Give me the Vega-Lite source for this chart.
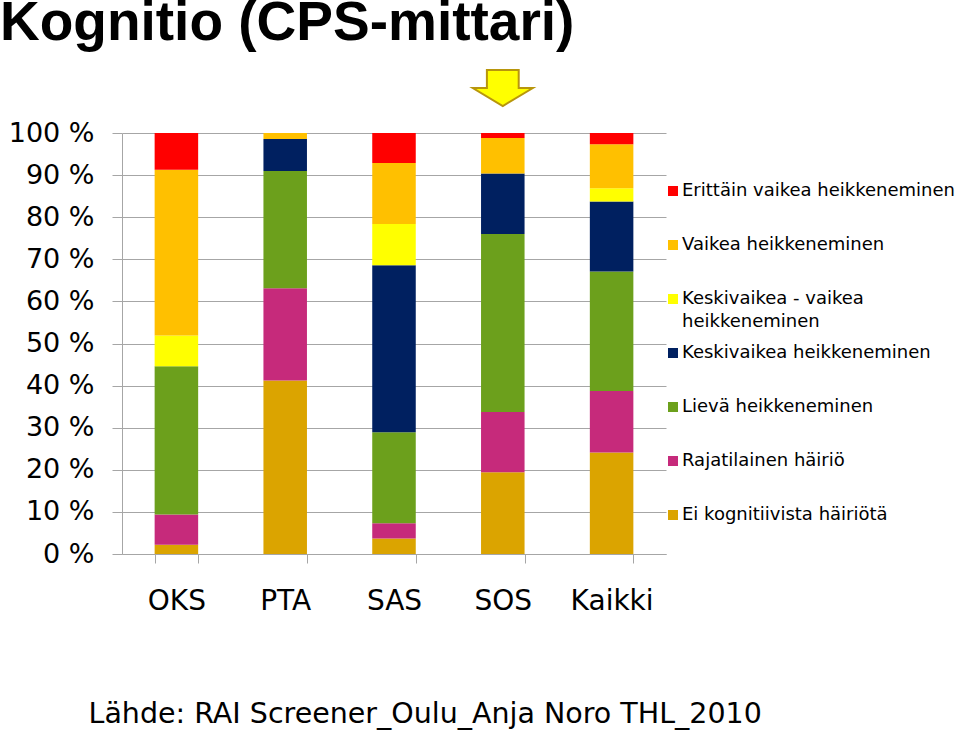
{
  "$schema": "https://vega.github.io/schema/vega-lite/v6.json",
  "width": 544,
  "height": 421,
  "autosize": {"type": "none"},
  "padding": {"left": 122, "top": 133, "right": 294, "bottom": 176},
  "background": "white",
  "title": {
    "text": "Kognitio (CPS-mittari)",
    "anchor": "start",
    "frame": "group",
    "font": "Liberation Sans",
    "fontSize": 55,
    "fontWeight": "bold",
    "color": "black",
    "baseline": "alphabetic",
    "offset": 0,
    "dx": -122,
    "dy": 29
  },
  "config": {
    "view": {"stroke": null},
    "style": {"guide-label": {"lineHeight": 23}}
  },
  "layer": [
    {
      "data": {
        "values": [
          {"group": "OKS", "cps": 0, "level": "Ei kognitiivista häiriötä", "pct": 2.2},
          {"group": "OKS", "cps": 1, "level": "Rajatilainen häiriö", "pct": 7.2},
          {"group": "OKS", "cps": 2, "level": "Lievä heikkeneminen", "pct": 35.2},
          {"group": "OKS", "cps": 3, "level": "Keskivaikea heikkeneminen", "pct": 0},
          {"group": "OKS", "cps": 4, "level": "Keskivaikea - vaikea heikkeneminen", "pct": 7.3},
          {"group": "OKS", "cps": 5, "level": "Vaikea heikkeneminen", "pct": 39.4},
          {"group": "OKS", "cps": 6, "level": "Erittäin vaikea heikkeneminen", "pct": 8.7},
          {"group": "PTA", "cps": 0, "level": "Ei kognitiivista häiriötä", "pct": 41.2},
          {"group": "PTA", "cps": 1, "level": "Rajatilainen häiriö", "pct": 21.9},
          {"group": "PTA", "cps": 2, "level": "Lievä heikkeneminen", "pct": 27.9},
          {"group": "PTA", "cps": 3, "level": "Keskivaikea heikkeneminen", "pct": 7.6},
          {"group": "PTA", "cps": 4, "level": "Keskivaikea - vaikea heikkeneminen", "pct": 0},
          {"group": "PTA", "cps": 5, "level": "Vaikea heikkeneminen", "pct": 1.4},
          {"group": "PTA", "cps": 6, "level": "Erittäin vaikea heikkeneminen", "pct": 0},
          {"group": "SAS", "cps": 0, "level": "Ei kognitiivista häiriötä", "pct": 3.7},
          {"group": "SAS", "cps": 1, "level": "Rajatilainen häiriö", "pct": 3.6},
          {"group": "SAS", "cps": 2, "level": "Lievä heikkeneminen", "pct": 21.6},
          {"group": "SAS", "cps": 3, "level": "Keskivaikea heikkeneminen", "pct": 39.7},
          {"group": "SAS", "cps": 4, "level": "Keskivaikea - vaikea heikkeneminen", "pct": 9.8},
          {"group": "SAS", "cps": 5, "level": "Vaikea heikkeneminen", "pct": 14.5},
          {"group": "SAS", "cps": 6, "level": "Erittäin vaikea heikkeneminen", "pct": 7.1},
          {"group": "SOS", "cps": 0, "level": "Ei kognitiivista häiriötä", "pct": 19.4},
          {"group": "SOS", "cps": 1, "level": "Rajatilainen häiriö", "pct": 14.3},
          {"group": "SOS", "cps": 2, "level": "Lievä heikkeneminen", "pct": 42.3},
          {"group": "SOS", "cps": 3, "level": "Keskivaikea heikkeneminen", "pct": 14.4},
          {"group": "SOS", "cps": 4, "level": "Keskivaikea - vaikea heikkeneminen", "pct": 0},
          {"group": "SOS", "cps": 5, "level": "Vaikea heikkeneminen", "pct": 8.4},
          {"group": "SOS", "cps": 6, "level": "Erittäin vaikea heikkeneminen", "pct": 1.2},
          {"group": "Kaikki", "cps": 0, "level": "Ei kognitiivista häiriötä", "pct": 24.1},
          {"group": "Kaikki", "cps": 1, "level": "Rajatilainen häiriö", "pct": 14.6},
          {"group": "Kaikki", "cps": 2, "level": "Lievä heikkeneminen", "pct": 28.4},
          {"group": "Kaikki", "cps": 3, "level": "Keskivaikea heikkeneminen", "pct": 16.6},
          {"group": "Kaikki", "cps": 4, "level": "Keskivaikea - vaikea heikkeneminen", "pct": 3.2},
          {"group": "Kaikki", "cps": 5, "level": "Vaikea heikkeneminen", "pct": 10.4},
          {"group": "Kaikki", "cps": 6, "level": "Erittäin vaikea heikkeneminen", "pct": 2.7}
        ]
      },
      "mark": {"type": "bar"},
      "encoding": {
        "x": {
          "field": "group",
          "type": "nominal",
          "sort": ["OKS", "PTA", "SAS", "SOS", "Kaikki"],
          "scale": {"paddingInner": 0.6, "paddingOuter": 0.3},
          "axis": {
            "title": "Lähde: RAI Screener_Oulu_Anja Noro THL_2010",
            "titleFont": "DejaVu Sans",
            "titleFontSize": 28.5,
            "titleFontWeight": "normal",
            "titleColor": "black",
            "titleAnchor": "start",
            "titleAlign": "left",
            "titleBaseline": "alphabetic",
            "titleX": -34,
            "titleY": 168,
            "labelAngle": 0,
            "labelFont": "DejaVu Sans",
            "labelFontSize": 28,
            "labelColor": "black",
            "labelPadding": 24,
            "tickBand": "extent",
            "tickSize": 9,
            "tickColor": "#A6A6A6",
            "domainColor": "#A6A6A6",
            "grid": false
          }
        },
        "y": {
          "field": "pct",
          "type": "quantitative",
          "stack": "normalize",
          "scale": {"domain": [0, 1]},
          "axis": {
            "title": null,
            "values": [0, 0.1, 0.2, 0.3, 0.4, 0.5, 0.6, 0.7, 0.8, 0.9, 1],
            "labelExpr": "round(datum.value * 100) + ' %'",
            "labelFont": "DejaVu Sans",
            "labelFontSize": 27,
            "labelColor": "black",
            "labelPadding": 18,
            "tickSize": 10,
            "tickColor": "#A6A6A6",
            "domainColor": "#A6A6A6",
            "grid": true,
            "gridColor": "#A6A6A6"
          }
        },
        "color": {
          "field": "level",
          "type": "nominal",
          "scale": {
            "domain": [
              "Erittäin vaikea heikkeneminen",
              "Vaikea heikkeneminen",
              "Keskivaikea - vaikea heikkeneminen",
              "Keskivaikea heikkeneminen",
              "Lievä heikkeneminen",
              "Rajatilainen häiriö",
              "Ei kognitiivista häiriötä"
            ],
            "range": ["#FF0000", "#FFC000", "#FFFF00", "#002060", "#6CA01C", "#C62A7B", "#DBA400"]
          },
          "legend": {
            "title": null,
            "orient": "none",
            "legendX": 542,
            "legendY": 49,
            "gridAlign": "all",
            "symbolType": "square",
            "symbolSize": 100,
            "symbolStrokeWidth": 0,
            "labelFont": "DejaVu Sans",
            "labelFontSize": 18,
            "labelColor": "black",
            "labelOffset": 0,
            "labelLimit": 400,
            "rowPadding": 13,
            "labelExpr": "datum.label == 'Keskivaikea - vaikea heikkeneminen' ? ['Keskivaikea - vaikea', 'heikkeneminen'] : datum.label"
          }
        },
        "order": {"field": "cps", "type": "quantitative", "sort": "ascending"}
      }
    },
    {
      "data": {"values": [{"group": "SOS", "note": "highlight"}]},
      "mark": {
        "type": "point",
        "shape": "M-0.53,-0.6L0.53,-0.6L0.53,0L1,0L0,0.6L-1,0L-0.53,0Z",
        "size": 3600,
        "filled": true,
        "fill": "#FFFF00",
        "stroke": "#B8960C",
        "strokeWidth": 2,
        "opacity": 1,
        "yOffset": -45
      },
      "encoding": {
        "x": {"field": "group", "type": "nominal", "sort": ["OKS", "PTA", "SAS", "SOS", "Kaikki"]},
        "y": {"datum": 1, "type": "quantitative"}
      }
    }
  ]
}
